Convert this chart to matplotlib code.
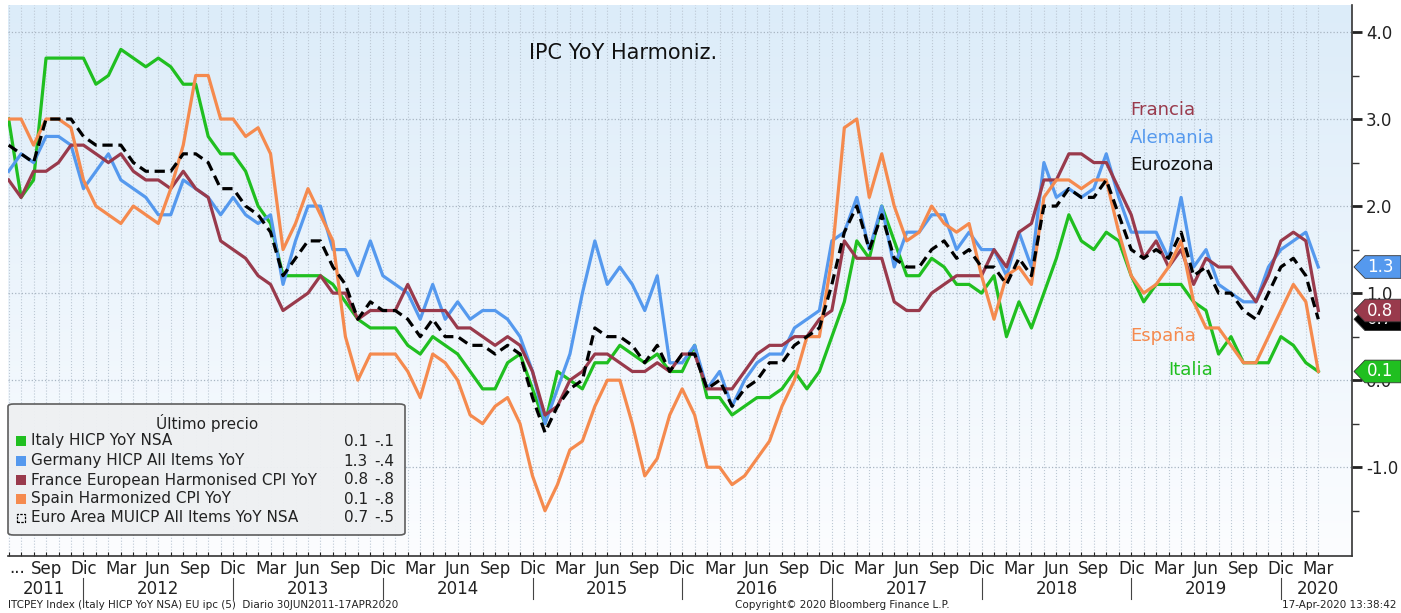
import numpy as np
import matplotlib
matplotlib.use("Agg")
import matplotlib.pyplot as plt
from matplotlib.patches import FancyBboxPatch, Polygon, Rectangle
from matplotlib.colors import LinearSegmentedColormap
from matplotlib.transforms import blended_transform_factory

# monthly data, Jun 2011 .. Mar 2020 (106 months)
italy = [3.0, 2.1, 2.3, 3.7, 3.7, 3.7, 3.7, 3.4, 3.5, 3.8, 3.7, 3.6, 3.7, 3.6, 3.4, 3.4, 2.8, 2.6, 2.6, 2.4, 2.0, 1.8,
         1.2, 1.2, 1.2, 1.2, 1.1, 0.9, 0.7, 0.6, 0.6, 0.6, 0.4, 0.3, 0.5, 0.4, 0.3, 0.1, -0.1, -0.1, 0.2, 0.3, -0.1,
         -0.5, 0.1, 0.0, -0.1, 0.2, 0.2, 0.4, 0.3, 0.2, 0.3, 0.1, 0.1, 0.4, -0.2, -0.2, -0.4, -0.3, -0.2, -0.2, -0.1, 0.1, -0.1,
         0.1, 0.5, 0.9, 1.6, 1.4, 2.0, 1.6, 1.2, 1.2, 1.4, 1.3, 1.1, 1.1, 1.0, 1.2, 0.5, 0.9, 0.6, 1.0, 1.4, 1.9, 1.6, 1.5,
         1.7, 1.6, 1.2, 0.9, 1.1, 1.1, 1.1, 0.9, 0.8, 0.3, 0.5, 0.2, 0.2, 0.2, 0.5, 0.4, 0.2, 0.1]
germany = [2.4, 2.6, 2.5, 2.8, 2.8, 2.7, 2.2, 2.4, 2.6, 2.3, 2.2, 2.1, 1.9, 1.9, 2.3, 2.2, 2.1, 1.9, 2.1, 1.9, 1.8, 1.9,
           1.1, 1.6, 2.0, 2.0, 1.5, 1.5, 1.2, 1.6, 1.2, 1.1, 1.0, 0.7, 1.1, 0.7, 0.9, 0.7, 0.8, 0.8, 0.7, 0.5, 0.1,
           -0.5, -0.1, 0.3, 1.0, 1.6, 1.1, 1.3, 1.1, 0.8, 1.2, 0.2, 0.2, 0.4, -0.1, 0.1, -0.3, 0.0, 0.2, 0.3, 0.3, 0.6, 0.7,
           0.8, 1.6, 1.7, 2.1, 1.5, 2.0, 1.3, 1.7, 1.7, 1.9, 1.9, 1.5, 1.7, 1.5, 1.5, 1.2, 1.7, 1.3, 2.5, 2.1, 2.2, 2.1, 2.2,
           2.6, 2.1, 1.7, 1.7, 1.7, 1.4, 2.1, 1.3, 1.5, 1.1, 1.0, 0.9, 0.9, 1.3, 1.5, 1.6, 1.7, 1.3]
france = [2.3, 2.1, 2.4, 2.4, 2.5, 2.7, 2.7, 2.6, 2.5, 2.6, 2.4, 2.3, 2.3, 2.2, 2.4, 2.2, 2.1, 1.6, 1.5, 1.4, 1.2, 1.1,
          0.8, 0.9, 1.0, 1.2, 1.0, 1.0, 0.7, 0.8, 0.8, 0.8, 1.1, 0.8, 0.8, 0.8, 0.6, 0.6, 0.5, 0.4, 0.5, 0.4, 0.1,
          -0.4, -0.3, 0.0, 0.1, 0.3, 0.3, 0.2, 0.1, 0.1, 0.2, 0.1, 0.3, 0.3, -0.1, -0.1, -0.1, 0.1, 0.3, 0.4, 0.4, 0.5, 0.5,
          0.7, 0.8, 1.6, 1.4, 1.4, 1.4, 0.9, 0.8, 0.8, 1.0, 1.1, 1.2, 1.2, 1.2, 1.5, 1.3, 1.7, 1.8, 2.3, 2.3, 2.6, 2.6, 2.5,
          2.5, 2.2, 1.9, 1.4, 1.6, 1.3, 1.5, 1.1, 1.4, 1.3, 1.3, 1.1, 0.9, 1.2, 1.6, 1.7, 1.6, 0.8]
spain = [3.0, 3.0, 2.7, 3.0, 3.0, 2.9, 2.3, 2.0, 1.9, 1.8, 2.0, 1.9, 1.8, 2.2, 2.7, 3.5, 3.5, 3.0, 3.0, 2.8, 2.9, 2.6,
         1.5, 1.8, 2.2, 1.9, 1.6, 0.5, 0.0, 0.3, 0.3, 0.3, 0.1, -0.2, 0.3, 0.2, 0.0, -0.4, -0.5, -0.3, -0.2, -0.5, -1.1,
         -1.5, -1.2, -0.8, -0.7, -0.3, 0.0, 0.0, -0.5, -1.1, -0.9, -0.4, -0.1, -0.4, -1.0, -1.0, -1.2, -1.1, -0.9, -0.7, -0.3, 0.0, 0.5,
         0.5, 1.4, 2.9, 3.0, 2.1, 2.6, 2.0, 1.6, 1.7, 2.0, 1.8, 1.7, 1.8, 1.2, 0.7, 1.2, 1.3, 1.1, 2.1, 2.3, 2.3, 2.2, 2.3,
         2.3, 1.7, 1.2, 1.0, 1.1, 1.3, 1.6, 0.9, 0.6, 0.6, 0.4, 0.2, 0.2, 0.5, 0.8, 1.1, 0.9, 0.1]
euro = [2.7, 2.6, 2.5, 3.0, 3.0, 3.0, 2.8, 2.7, 2.7, 2.7, 2.5, 2.4, 2.4, 2.4, 2.6, 2.6, 2.5, 2.2, 2.2, 2.0, 1.9, 1.7,
        1.2, 1.4, 1.6, 1.6, 1.3, 1.1, 0.7, 0.9, 0.8, 0.8, 0.7, 0.5, 0.7, 0.5, 0.5, 0.4, 0.4, 0.3, 0.4, 0.3, -0.2,
        -0.6, -0.3, -0.1, 0.0, 0.6, 0.5, 0.5, 0.4, 0.2, 0.4, 0.1, 0.3, 0.3, -0.1, 0.0, -0.3, -0.1, 0.0, 0.2, 0.2, 0.4, 0.5,
        0.6, 1.1, 1.7, 2.0, 1.5, 1.9, 1.4, 1.3, 1.3, 1.5, 1.6, 1.4, 1.5, 1.3, 1.3, 1.1, 1.4, 1.2, 2.0, 2.0, 2.2, 2.1, 2.1,
        2.3, 1.9, 1.5, 1.4, 1.5, 1.4, 1.7, 1.2, 1.3, 1.0, 1.0, 0.8, 0.7, 1.0, 1.3, 1.4, 1.2, 0.7]

legend_names = ["Italy HICP YoY NSA", "Germany HICP All Items YoY", "France European Harmonised CPI YoY",
                "Spain Harmonized CPI YoY", "Euro Area MUICP All Items YoY NSA"]
legend_last = ["0.1", "1.3", "0.8", "0.1", "0.7"]
legend_chg = ["-.1", "-.4", "-.8", "-.8", "-.5"]
quarter_names = ["Sep", "Dic", "Mar", "Jun"]
years = ["2011", "2012", "2013", "2014", "2015", "2016", "2017", "2018", "2019", "2020"]
year_pos = [2.8, 12, 24, 36, 48, 60, 72, 84, 96, 105]

GREEN, BLUE, MAROON, ORANGE = "#20bf20", "#5599ee", "#993a4c", "#f58a4e"

W, H = 1401, 613
fig = plt.figure(figsize=(W / 100, H / 100), dpi=100)
fx = lambda x: x / W
fy = lambda y: 1 - y / H
ax = fig.add_axes([fx(8), fy(556), (1352 - 8) / W, (556 - 5) / H])

bg = LinearSegmentedColormap.from_list("bg", ["#dcecf9", "#fcfdff"])
ax.imshow(np.linspace(0, 1, 256).reshape(-1, 1), cmap=bg, extent=[0, 1, 0, 1],
          transform=ax.transAxes, aspect="auto", zorder=0)

x = np.arange(len(italy))
ax.plot(x, italy, color=GREEN, lw=2.3, zorder=3)
ax.plot(x, germany, color=BLUE, lw=2.3, zorder=3)
ax.plot(x, france, color=MAROON, lw=2.3, zorder=3)
ax.plot(x, spain, color=ORANGE, lw=2.3, zorder=3)
ax.plot(x, euro, color="black", lw=2.3, ls=(0, (3.2, 1.8)), zorder=4)

ax.set_xlim(-0.05, 107.7)
ax.set_ylim(-2.02, 4.31)

for s in ["top", "left"]:
    ax.spines[s].set_visible(False)
for s in ["bottom", "right"]:
    ax.spines[s].set_color("#333333")
    ax.spines[s].set_linewidth(1.2)

ax.yaxis.tick_right()
ax.set_yticks([-1, 0, 1, 2, 3, 4])
ax.set_yticklabels([f"{v:.1f}" for v in [-1, 0, 1, 2, 3, 4]])
ax.set_yticks(np.arange(-1.5, 4.0, 1.0), minor=True)
ax.tick_params(axis="y", which="major", length=7, width=2, labelsize=12, pad=3, colors="#222222")
ax.tick_params(axis="y", which="minor", length=5, width=1, colors="#333333")

qpos = np.arange(3, len(italy), 3)
ax.set_xticks(qpos)
ax.set_xticklabels([quarter_names[k % 4] for k in range(len(qpos))])
ax.set_xticks(np.arange(0, len(italy)), minor=True)
ax.tick_params(axis="x", which="both", length=3, width=0.8, direction="in", labelsize=12, pad=3, colors="#222222")

ax.grid(which="both", axis="x", ls=":", color="#bcc8d4", lw=0.8)
ax.grid(which="major", axis="y", ls=":", color="#a8b5c2", lw=0.9)
ax.set_axisbelow(True)

bt = blended_transform_factory(ax.transData, ax.transAxes)
ax.text(0.7, -0.006, "...", transform=bt, ha="center", va="top", fontsize=12, color="#222222")
for yr, p in zip(years, year_pos):
    ax.text(p, -0.06, yr, transform=bt, ha="center", va="center", fontsize=12, color="#222222")
for p in range(6, len(italy), 12):
    ax.plot([p, p], [-0.040, -0.078], transform=bt, color="#444444", lw=0.8, clip_on=False)

# title and series names
fig.text(fx(623), fy(53), "IPC YoY Harmoniz.", ha="center", va="center", fontsize=15, color="#111111")
fig.text(fx(1130), fy(110), "Francia", color=MAROON, fontsize=13, va="center")
fig.text(fx(1130), fy(138), "Alemania", color=BLUE, fontsize=13, va="center")
fig.text(fx(1130), fy(165), "Eurozona", color="#111111", fontsize=13, va="center")
fig.text(fx(1130), fy(336), "España", color=ORANGE, fontsize=13, va="center")
fig.text(fx(1168), fy(370), "Italia", color=GREEN, fontsize=13, va="center")

# last value tags on the right axis (later tags cover earlier ones)
tt = blended_transform_factory(fig.transFigure, ax.transData)
h = 0.13
z = 5.0
for series, col in [(euro, "black"), (france, MAROON), (germany, BLUE), (italy, GREEN)]:
    v = series[-1]
    pts = [(fx(1354), v), (fx(1365), v + h), (fx(1401), v + h), (fx(1401), v - h), (fx(1365), v - h)]
    fig.add_artist(Polygon(pts, closed=True, transform=tt, facecolor=col, edgecolor="#333333", lw=0.6, zorder=z))
    t = fig.text(fx(1367), 0, f"{v:.1f}", transform=tt, color="white", fontsize=12, va="center", zorder=z + 0.1)
    t.set_y(v)
    z += 0.2

# legend box
box = FancyBboxPatch((fx(8), fy(535)), (405 - 8) / W, (535 - 404) / H, transform=fig.transFigure,
                     boxstyle="round,pad=0,rounding_size=0.004", facecolor="#eef0f2", edgecolor="#555555",
                     lw=1.2, alpha=0.95, zorder=2)
fig.add_artist(box)
fig.text(fx(207), fy(423), "Último precio", ha="center", va="center", fontsize=11, color="#222222")
rows = [441, 461, 480, 499, 518]
cols = [GREEN, BLUE, MAROON, ORANGE, None]
for r, name, last, chg, c in zip(rows, legend_names, legend_last, legend_chg, cols):
    if c is not None:
        fig.add_artist(Rectangle((fx(16), fy(r + 5)), 10 / W, 10 / H, transform=fig.transFigure,
                                 facecolor=c, edgecolor="none", zorder=3))
    else:
        fig.add_artist(Rectangle((fx(17), fy(r + 4)), 8 / W, 8 / H, transform=fig.transFigure,
                                 facecolor="none", edgecolor="black", lw=0.9, ls=(0, (2, 1)), zorder=3))
    fig.text(fx(31), fy(r), name, va="center", fontsize=11, color="#222222")
    fig.text(fx(368), fy(r), last, va="center", ha="right", fontsize=11, color="#222222")
    fig.text(fx(394), fy(r), chg, va="center", ha="right", fontsize=11, color="#222222")

# footer
fig.text(fx(8), fy(605), "ITCPEY Index (Italy HICP YoY NSA) EU ipc (5)  Diario 30JUN2011-17APR2020",
         fontsize=7.5, va="center", color="#222222")
fig.text(fx(842), fy(605), "Copyright© 2020 Bloomberg Finance L.P.", fontsize=7.5, va="center",
         ha="center", color="#222222")
fig.text(fx(1397), fy(605), "17-Apr-2020 13:38:42", fontsize=7.5, va="center", ha="right", color="#222222")

fig.savefig("out.png", dpi=100, facecolor="white")
